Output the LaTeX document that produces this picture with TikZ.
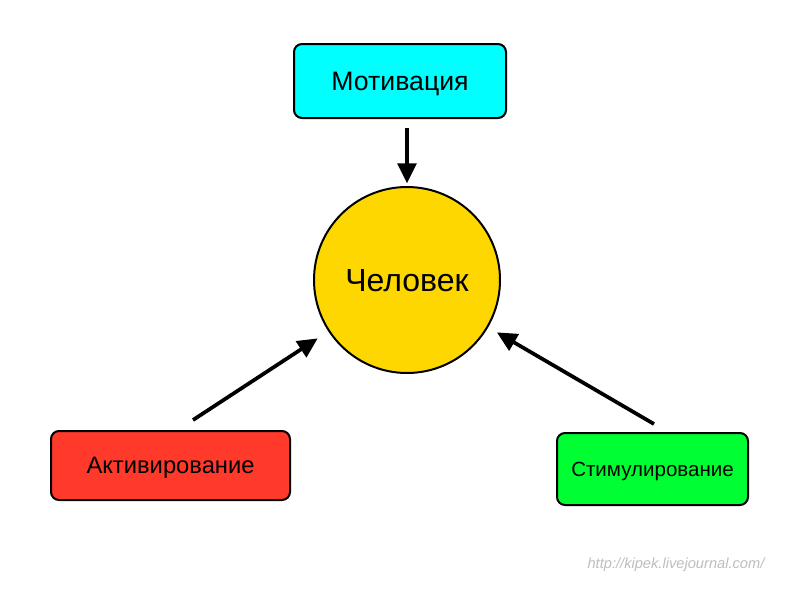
\documentclass[tikz,border=0pt]{standalone}
\usepackage{fontspec}
\setmainfont{Liberation Sans}
\usetikzlibrary{arrows.meta}
\definecolor{motc}{RGB}{0,255,255}
\definecolor{aktc}{RGB}{255,58,43}
\definecolor{stic}{RGB}{0,255,50}
\definecolor{chec}{RGB}{255,215,0}
\definecolor{wmc}{RGB}{190,190,190}
\tikzset{
  boxnode/.style={draw=black, line width=1.5pt, rounded corners=6pt, align=center, inner sep=0pt, text depth=0pt},
  arr/.style={line width=2.8pt, -{Triangle[length=15pt,width=14pt]}},
}
\begin{document}
\begin{tikzpicture}[x=0.75pt,y=-0.75pt]
\useasboundingbox[fill=white] (0,0) rectangle (800,600);
\node[boxnode, fill=motc, minimum width=159pt, minimum height=55.5pt, text height=14.3pt, font=\fontsize{20pt}{22pt}\selectfont] (mot) at (400,81) {Мотивация};
\node[draw=black, line width=1.5pt, circle, fill=chec, minimum size=139.5pt, inner sep=0pt, text height=17.2pt, text depth=0pt, font=\fontsize{24pt}{28pt}\selectfont] (chel) at (407,280) {Человек};
\node[boxnode, fill=aktc, minimum width=179.25pt, minimum height=51.75pt, text height=12.7pt, font=\fontsize{17.8pt}{20pt}\selectfont] (akt) at (170.5,465.5) {Активирование};
\node[boxnode, fill=stic, minimum width=143.25pt, minimum height=54pt, text height=11pt, font=\fontsize{15.4pt}{18pt}\selectfont] (sti) at (652.5,469) {Стимулирование};
\coordinate (t0) at (407,128);
\coordinate (t1) at (193,420);
\coordinate (t2) at (654,424);
\draw[arr, shorten >=72.5pt] (t0) -- (chel.center -| t0);
\draw[arr, shorten >=80pt] (t1) -- (chel.center);
\draw[arr, shorten >=78pt] (t2) -- (chel.center);
\node[text=wmc, font=\itshape\fontsize{11pt}{13pt}\selectfont, anchor=center] (wm) at (676,565) {http://kipek.livejournal.com/};
\end{tikzpicture}
\end{document}
